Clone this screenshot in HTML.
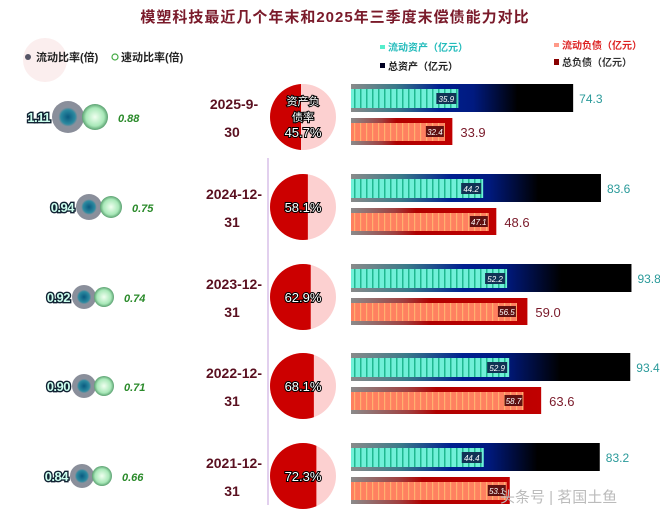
<!DOCTYPE html>
<html><head><meta charset="utf-8"><style>
body{margin:0;background:#fff}
svg{display:block}
text{font-family:"Liberation Sans","Noto Sans CJK SC",sans-serif}
</style></head><body>
<svg width="660" height="516" viewBox="0 0 660 516" xmlns="http://www.w3.org/2000/svg">
<defs>
<radialGradient id="dk"><stop offset="0" stop-color="#0a5a80"/><stop offset="0.45" stop-color="#2c8aa0"/><stop offset="0.6" stop-color="#8a909c"/><stop offset="1" stop-color="#8a8e9a"/></radialGradient>
<radialGradient id="gr"><stop offset="0" stop-color="#f0fff0"/><stop offset="0.7" stop-color="#a8e8b8"/><stop offset="1" stop-color="#5aa070"/></radialGradient>
<linearGradient id="tot" x1="0" x2="1"><stop offset="0" stop-color="#8a8a8a"/><stop offset="0.2" stop-color="#3a7a8a"/><stop offset="0.4" stop-color="#002090"/><stop offset="0.55" stop-color="#001a80"/><stop offset="0.75" stop-color="#000"/><stop offset="1" stop-color="#000"/></linearGradient>
<linearGradient id="liab" x1="0" x2="1"><stop offset="0" stop-color="#8a8a8a"/><stop offset="0.3" stop-color="#a04040"/><stop offset="0.45" stop-color="#b00000"/><stop offset="1" stop-color="#c00000"/></linearGradient>
<pattern id="cy" width="6" height="10" patternUnits="userSpaceOnUse"><rect width="6" height="10" fill="#70f0d8"/><rect width="1.5" height="10" fill="#20b890"/></pattern>
<pattern id="or" width="6" height="10" patternUnits="userSpaceOnUse"><rect width="6" height="10" fill="#ff8060"/><rect width="1.2" height="10" fill="#ffb070"/></pattern>
</defs>
<text x="335" y="22" text-anchor="middle" font-family="'Noto Serif CJK SC',serif" font-size="15" font-weight="bold" fill="#7a1a2a" letter-spacing="1">模塑科技最近几个年末和2025年三季度末偿债能力对比</text>
<circle cx="45" cy="60" r="22" fill="#fbeeee"/>
<circle cx="28" cy="57" r="3" fill="#556"/>
<text x="36" y="61" font-size="11" font-weight="bold" fill="#222">流动比率(倍)</text>
<circle cx="115" cy="57" r="3" fill="#fff" stroke="#4a4" stroke-width="1.2"/>
<text x="121" y="61" font-size="11" font-weight="bold" fill="#222">速动比率(倍)</text>
<rect x="380" y="45" width="5" height="4" fill="#5ec"/>
<text x="388" y="51" font-size="10" font-weight="bold" fill="#2bb">流动资产（亿元）</text>
<rect x="380" y="63" width="5" height="5" fill="#002"/>
<text x="388" y="70" font-size="10" font-weight="bold" fill="#222">总资产（亿元）</text>
<rect x="554" y="43" width="5" height="4" fill="#f98"/>
<text x="562" y="49" font-size="10" font-weight="bold" fill="#d22">流动负债（亿元）</text>
<rect x="554" y="59" width="5" height="6" fill="#800"/>
<text x="562" y="66" font-size="10" font-weight="bold" fill="#333">总负债（亿元）</text>
<line x1="268" y1="158" x2="268" y2="505" stroke="#d8c0e8" stroke-width="1.5"/>
<g id="rows"></g>
<text x="500" y="502" font-size="15" fill="#bbb">头条号 | 茗国土鱼</text>
</svg>
<script>
var rows=[
["2025-9-","30",45.7,74.3,35.9,33.9,32.4,1.11,0.88,16,13,117],
["2024-12-","31",58.1,83.6,44.2,48.6,47.1,0.94,0.75,13,11,207],
["2023-12-","31",62.9,93.8,52.2,59.0,56.5,0.92,0.74,12,10,297],
["2022-12-","31",68.1,93.4,52.9,63.6,58.7,0.90,0.71,12,10,386],
["2021-12-","31",72.3,83.2,44.4,53.1,53.1,0.84,0.66,12,10,476]];
var s='',k=2.99,X=351;
rows.forEach(function(r,i){
var c=r[11],cx=303,R=33;
var dx=i==0?52:(i==1?76:(i==4?70:72));
s+='<text x="'+(dx-2)+'" y="'+(c+5)+'" text-anchor="end" font-size="13" font-weight="bold" fill="#cfe" stroke="#123" stroke-width="2.8" paint-order="stroke" letter-spacing="-0.5">'+r[7].toFixed(2)+'</text>';
s+='<circle cx="'+(dx+r[9])+'" cy="'+c+'" r="'+r[9]+'" fill="url(#dk)"/>';
var gx=dx+2*r[9]+r[10]-2;
s+='<circle cx="'+gx+'" cy="'+c+'" r="'+r[10]+'" fill="url(#gr)"/>';
s+='<text x="'+(gx+r[10]+10)+'" y="'+(c+5)+'" font-size="11" font-style="italic" font-weight="bold" fill="#2a8a2a">'+r[8].toFixed(2)+'</text>';
s+='<text x="234" y="'+(c-8)+'" text-anchor="middle" font-size="14" font-weight="bold" fill="#5a1020">'+r[0]+'</text>';
s+='<text x="232" y="'+(c+20)+'" text-anchor="middle" font-size="14" font-weight="bold" fill="#5a1020">'+r[1]+'</text>';
var off=i==0?-2:(r[2]-50)*0.6;
s+='<clipPath id="cp'+i+'"><rect x="'+(cx-R)+'" y="'+(c-R)+'" width="'+(R+off)+'" height="'+(2*R)+'"/></clipPath>';
s+='<circle cx="'+cx+'" cy="'+c+'" r="'+R+'" fill="#fcd0d0"/>';
s+='<circle cx="'+cx+'" cy="'+c+'" r="'+R+'" fill="#cc0000" clip-path="url(#cp'+i+')"/>';
if(i==0){
s+='<text x="'+cx+'" y="'+(c-12)+'" text-anchor="middle" font-size="11" fill="#fff" stroke="#000" stroke-width="2" paint-order="stroke">资产负</text>';
s+='<text x="'+cx+'" y="'+(c+4)+'" text-anchor="middle" font-size="11" fill="#fff" stroke="#000" stroke-width="2" paint-order="stroke">债率</text>';
s+='<text x="'+cx+'" y="'+(c+20)+'" text-anchor="middle" font-size="13" fill="#fff" stroke="#000" stroke-width="2" paint-order="stroke">45.7%</text>';
}else s+='<text x="'+cx+'" y="'+(c+5)+'" text-anchor="middle" font-size="13" fill="#fff" stroke="#000" stroke-width="2" paint-order="stroke">'+r[2].toFixed(1)+'%</text>';
var t1=c-33,t2=c+1;
s+='<rect x="'+X+'" y="'+t1+'" width="'+(r[3]*k)+'" height="28" fill="url(#tot)"/>';
s+='<rect x="'+X+'" y="'+(t1+5)+'" width="'+(r[4]*k)+'" height="19" fill="url(#cy)"/>';
s+='<rect x="'+(X+r[4]*k-22)+'" y="'+(t1+9)+'" width="20" height="11" fill="#135"/>';
s+='<text x="'+(X+r[4]*k-12)+'" y="'+(t1+18)+'" text-anchor="middle" font-size="8" font-style="italic" fill="#fff">'+r[4].toFixed(1)+'</text>';
s+='<text x="'+(X+r[3]*k+6)+'" y="'+(t1+19)+'" font-size="12" fill="#2a9a9a">'+r[3].toFixed(1)+'</text>';
s+='<rect x="'+X+'" y="'+t2+'" width="'+(r[5]*k)+'" height="27" fill="url(#liab)"/>';
s+='<rect x="'+X+'" y="'+(t2+5)+'" width="'+(r[6]*k-3)+'" height="18" fill="url(#or)"/>';
s+='<rect x="'+(X+r[6]*k-22)+'" y="'+(t2+8)+'" width="18" height="11" fill="#601010"/>';
s+='<text x="'+(X+r[6]*k-13)+'" y="'+(t2+17)+'" text-anchor="middle" font-size="8" font-style="italic" fill="#fff">'+r[6].toFixed(1)+'</text>';
if(i<4)s+='<text x="'+(X+r[5]*k+8)+'" y="'+(t2+19)+'" font-size="13" fill="#7a1a2a">'+r[5].toFixed(1)+'</text>';
});
document.getElementById('rows').innerHTML=s;
</script>
</body></html>
